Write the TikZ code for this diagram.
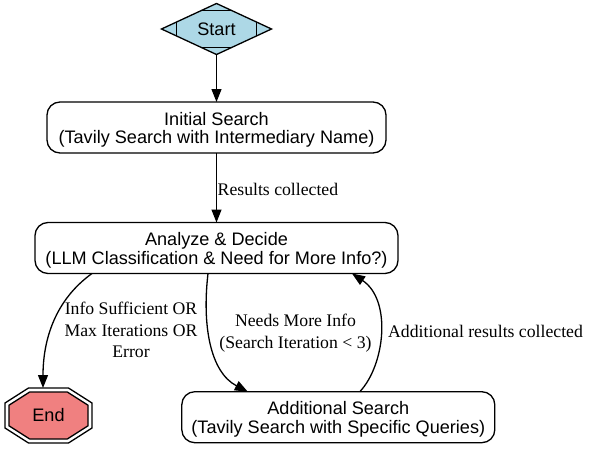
\documentclass[tikz,border=0pt]{standalone}
\usepackage{fontspec}
\setmainfont{Liberation Serif}
\newfontfamily\nodefont{Liberation Sans}
\usetikzlibrary{shapes.geometric,arrows.meta,calc}
\definecolor{startblue}{RGB}{173,216,230}
\definecolor{endcoral}{RGB}{240,128,128}
\newcommand{\firstlinestrut}{\rule{0pt}{17.9pt}}
\begin{document}
\begin{tikzpicture}[x=1pt,y=-1pt,
  nodetext/.style={font=\nodefont\fontsize{18.1}{18.6}\selectfont, align=center},
  box/.style={nodetext, draw, rounded corners=13pt, line width=1.3pt, minimum height=51pt, inner sep=0pt, outer sep=0pt},
  edgelabel/.style={font=\fontsize{17.7}{21.8}\selectfont, align=center, inner sep=0pt},
  arr/.style={line width=1.3pt, -{Triangle[length=13pt,width=10pt]}},
  cornermark/.style={line width=1.3pt},
]
\useasboundingbox (0,0) rectangle (589,452);

% Start (Mdiamond)
\node[diamond, draw, fill=startblue, line width=1.3pt, minimum width=110pt, minimum height=48pt,
      inner sep=0pt, outer sep=0pt, nodetext] (start) at (216.5,29) {\raisebox{-2pt}{Start}};
\draw[cornermark] ($(start.west)!0.27!(start.north)$) -- ($(start.west)!0.27!(start.south)$);
\draw[cornermark] ($(start.east)!0.27!(start.north)$) -- ($(start.east)!0.27!(start.south)$);
\draw[cornermark] ($(start.north)!0.27!(start.west)$) -- ($(start.north)!0.27!(start.east)$);
\draw[cornermark] ($(start.south)!0.27!(start.west)$) -- ($(start.south)!0.27!(start.east)$);

% Boxes
\node[box, minimum width=339pt] (init) at (216.5,127.5) {\firstlinestrut Initial Search\\(Tavily Search with Intermediary Name)};
\node[box, minimum width=363pt] (analyze) at (216.5,248) {\firstlinestrut Analyze \& Decide\\(LLM Classification \& Need for More Info?)};
\node[box, minimum width=313pt] (additional) at (338.3,417.2) {\firstlinestrut Additional Search\\(Tavily Search with Specific Queries)};

% End (doubleoctagon)
\coordinate (endc) at (48.5,415.5);
\draw[line width=1.3pt] ($(endc)+(-20,-27.5)$) -- ($(endc)+(20,-27.5)$) -- ($(endc)+(43.5,-12.5)$) -- ($(endc)+(43.5,12.5)$)
  -- ($(endc)+(20,27.5)$) -- ($(endc)+(-20,27.5)$) -- ($(endc)+(-43.5,12.5)$) -- ($(endc)+(-43.5,-12.5)$) -- cycle;
\draw[line width=1.3pt, fill=endcoral] ($(endc)+(-18.8,-23.5)$) -- ($(endc)+(18.8,-23.5)$) -- ($(endc)+(39.5,-10.3)$) -- ($(endc)+(39.5,10.3)$)
  -- ($(endc)+(18.8,23.5)$) -- ($(endc)+(-18.8,23.5)$) -- ($(endc)+(-39.5,10.3)$) -- ($(endc)+(-39.5,-10.3)$) -- cycle;
\node[nodetext, minimum width=87pt, minimum height=55pt, inner sep=0pt, outer sep=0pt] (end) at (endc) {\raisebox{-1.5pt}{End}};

% Connectors
\draw[arr] (start.south) -- (init.north);
\draw[arr] (init.south) -- (analyze.north);
\node[edgelabel, anchor=base west] (lblres) at (217.5,195) {Results collected};

\draw[arr] ($(analyze.south west)+(57,0)$) .. controls (55,300) and (43,340) .. ($(end.north)+(-5.5,0)$);
\node[edgelabel] (lblend) at (131,330) {Info Sufficient OR\\Max Iterations OR\\Error};

\draw[arr] ($(analyze.south west)+(173,0)$) .. controls (202,325) and (210,372) .. ($(additional.north west)+(66,0)$);
\node[edgelabel] (lblmore) at (295.5,333) {Needs More Info\\(Search Iteration < 3)};

\draw[arr] ($(additional.north west)+(178,0)$) .. controls (385,365) and (392,300) .. ($(analyze.south west)+(317,0)$);
\node[edgelabel, anchor=base west] (lbladd) at (388,337.5) {Additional results collected};
\end{tikzpicture}
\end{document}
